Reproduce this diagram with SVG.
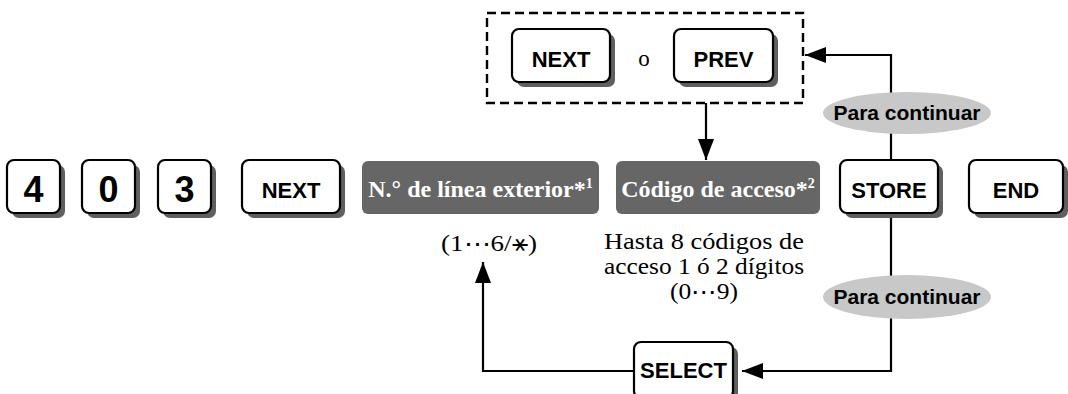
<svg xmlns="http://www.w3.org/2000/svg" width="1068" height="394" viewBox="0 0 1068 394">
<defs>
<style>
.sh{fill:#5f5f5f}
.key{fill:#fff;stroke:#000;stroke-width:2.2}
.kt{font-family:"Liberation Sans",Arial,sans-serif;font-weight:bold;font-size:22px;text-anchor:middle;fill:#000}
.dg{font-size:36px}
.gb{fill:#666}
.gt{font-family:"Liberation Serif","Times New Roman",serif;font-weight:bold;font-size:24px;fill:#fff;text-anchor:middle}
.st{font-family:"Liberation Serif","Times New Roman",serif;font-size:23px;fill:#000;text-anchor:middle}
.ell{fill:#c8c8c8}
.et{font-family:"Liberation Sans",Arial,sans-serif;font-weight:bold;font-size:21px;text-anchor:middle;fill:#000}
.ln{fill:none;stroke:#000;stroke-width:2.2}
.dash{fill:none;stroke:#000;stroke-width:2.4;stroke-dasharray:9,5}
</style>
<marker id="ah" markerUnits="userSpaceOnUse" markerWidth="22" markerHeight="18" refX="21" refY="8" orient="auto"><path d="M0,0 L21,8 L0,16 z" fill="#000"/></marker>
</defs>
<rect width="1068" height="394" fill="#fff"/>

<g id="connectors">
<line class="ln" x1="706" y1="103" x2="706" y2="160" marker-end="url(#ah)"/>
<path class="ln" d="M891,161 V55 H805" marker-end="url(#ah)"/>
<path class="ln" d="M891,214 V371 H742" marker-end="url(#ah)"/>
<path class="ln" d="M634,371 H483 V262" marker-end="url(#ah)"/>
</g>

<g id="key-4"><rect class="sh" x="12" y="165" width="53" height="53" rx="7"/><rect class="key" x="7" y="160" width="53" height="53" rx="7"/><text class="kt dg" x="33.5" y="202">4</text></g>
<g id="key-0"><rect class="sh" x="87" y="165" width="53" height="53" rx="7"/><rect class="key" x="82" y="160" width="53" height="53" rx="7"/><text class="kt dg" x="108.5" y="202">0</text></g>
<g id="key-3"><rect class="sh" x="163" y="165" width="53" height="53" rx="7"/><rect class="key" x="158" y="160" width="53" height="53" rx="7"/><text class="kt dg" x="184.5" y="202">3</text></g>
<g id="key-next"><rect class="sh" x="247" y="165" width="98" height="53" rx="7"/><rect class="key" x="242" y="160" width="98" height="53" rx="7"/><text class="kt" x="291" y="198">NEXT</text></g>

<g id="box-linea"><rect class="gb" x="362" y="161" width="237" height="53" rx="6"/><text class="gt" x="480.5" y="197">N.° de línea exterior*<tspan font-size="14" dy="-9">1</tspan></text></g>
<g id="box-codigo"><rect class="gb" x="616" y="161" width="204" height="53" rx="6"/><text class="gt" x="718" y="197">Código de acceso*<tspan font-size="14" dy="-9">2</tspan></text></g>

<g id="key-store"><rect class="sh" x="845" y="165" width="98" height="53" rx="7"/><rect class="key" x="840" y="160" width="98" height="53" rx="7"/><text class="kt" x="889" y="198">STORE</text></g>
<g id="key-end"><rect class="sh" x="974" y="165" width="94" height="53" rx="7"/><rect class="key" x="969" y="160" width="94" height="53" rx="7"/><text class="kt" x="1016" y="198">END</text></g>

<g id="group-nextprev">
<rect class="dash" x="487" y="13" width="316" height="90"/>
<g id="key-next2"><rect class="sh" x="517" y="34" width="98" height="53" rx="7"/><rect class="key" x="512" y="29" width="98" height="53" rx="7"/><text class="kt" x="561" y="67">NEXT</text></g>
<text class="st" x="644" y="66">o</text>
<g id="key-prev"><rect class="sh" x="679" y="34" width="99" height="53" rx="7"/><rect class="key" x="674" y="29" width="99" height="53" rx="7"/><text class="kt" x="723.5" y="67">PREV</text></g>
</g>

<g id="cont-top"><ellipse class="ell" cx="907" cy="113" rx="84" ry="21"/><text class="et" x="907" y="120">Para continuar</text></g>
<g id="cont-bottom"><ellipse class="ell" cx="907" cy="297" rx="84" ry="22"/><text class="et" x="907" y="304">Para continuar</text></g>

<g id="key-select"><rect class="sh" x="639" y="347" width="99" height="56" rx="7"/><rect class="key" x="634" y="342" width="99" height="56" rx="7"/><text class="kt" x="683.5" y="378">SELECT</text></g>

<g id="notes">
<text class="st" x="489" y="251" textLength="96" lengthAdjust="spacingAndGlyphs">(1⋯6/⚹)</text>
<text class="st" x="704" y="249" textLength="200" lengthAdjust="spacingAndGlyphs">Hasta 8 códigos de</text>
<text class="st" x="704" y="274" textLength="200" lengthAdjust="spacingAndGlyphs">acceso 1 ó 2 dígitos</text>
<text class="st" x="704" y="299" textLength="68" lengthAdjust="spacingAndGlyphs">(0⋯9)</text>
</g>
</svg>
